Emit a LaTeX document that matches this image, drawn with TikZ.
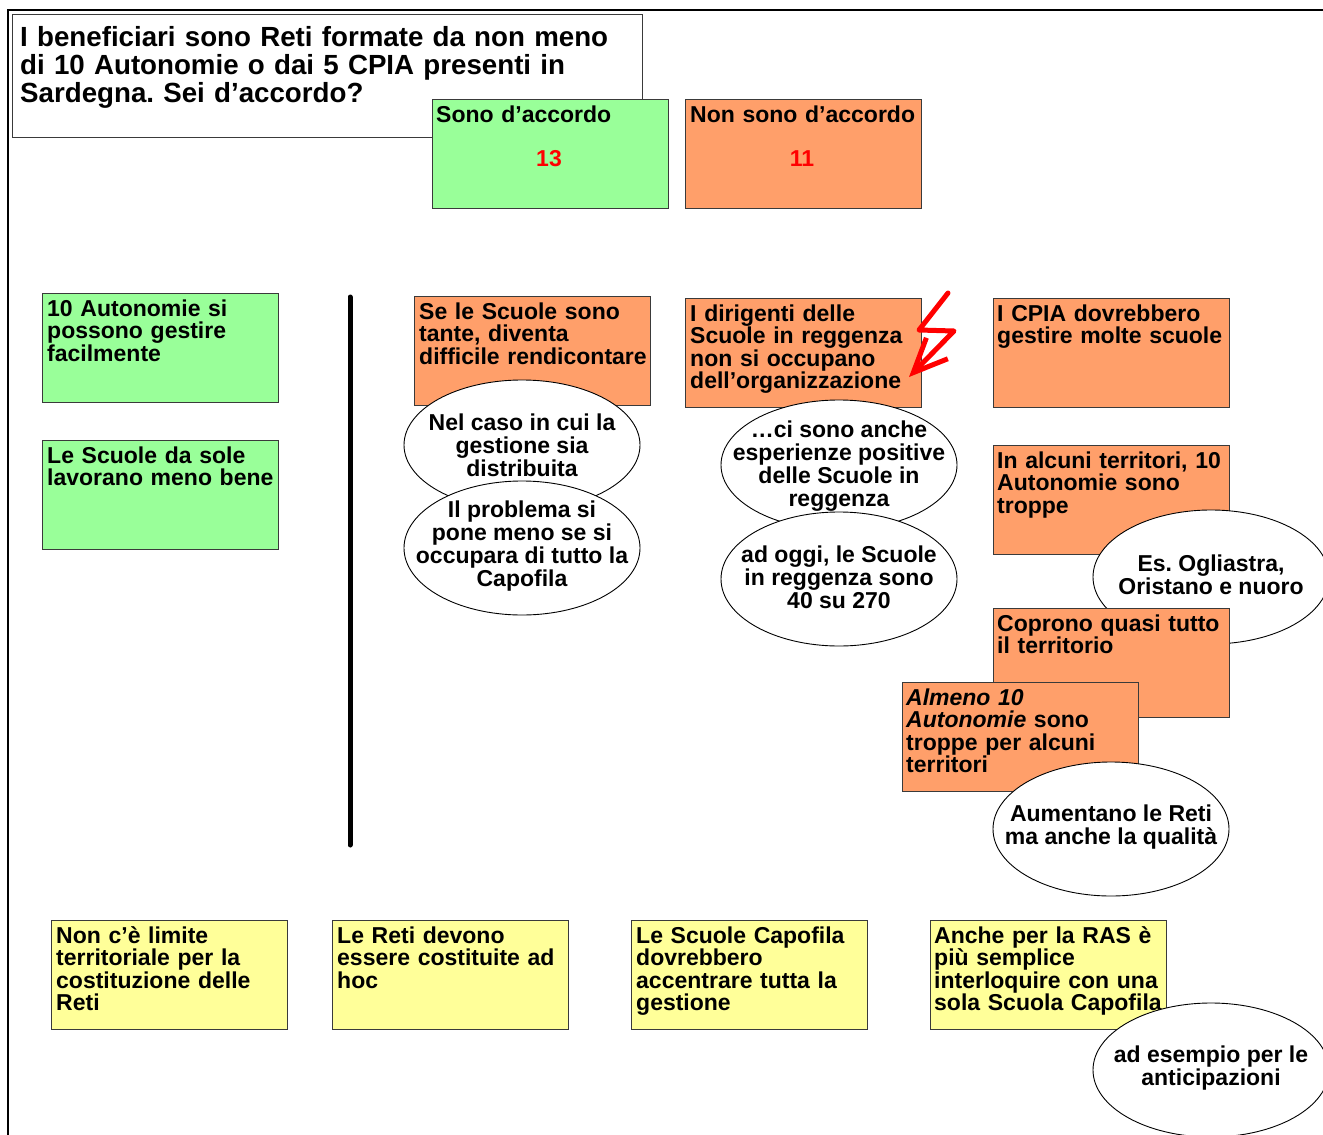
\documentclass[tikz,border=0pt]{standalone}
\usepackage{fontspec}
\setmainfont{Liberation Sans}
\usetikzlibrary{shapes.geometric,arrows.meta}
\definecolor{agree}{HTML}{99FF99}
\definecolor{disagree}{HTML}{FF9F6A}
\definecolor{note}{HTML}{FFFF99}
\definecolor{edge}{HTML}{3A3A3A}
\frenchspacing

\begin{document}
\begin{tikzpicture}[x=1pt,y=-1pt,
  card/.style={draw=edge, line width=0.9pt, minimum width=236pt, minimum height=109pt,
    anchor=north west, inner sep=0pt, outer sep=0pt},
  cardtext/.style={anchor=base west, inner sep=0pt, text width=232pt, align=left,
    font=\bfseries\fontsize{23}{22.5}\selectfont},
  bubble/.style={ellipse, draw=black, line width=0.9pt, fill=white,
    minimum width=236pt, minimum height=134pt, inner sep=0pt},
  bubbletext/.style={align=center, inner sep=0pt,
    font=\bfseries\fontsize{23}{23}\selectfont},
  count/.style={inner sep=0pt, text=red, font=\bfseries\fontsize{23}{23}\selectfont},
]
\useasboundingbox (0,0) rectangle (1323,1135);
\clip (0,0) rectangle (1323,1135);
\fill[white] (0,0) rectangle (1323,1135);

% outer frame (runs off the right and bottom edges)
\draw[line width=2.6pt] (8,10) rectangle (1345,1160);

% question
\node[draw=edge, line width=0.9pt, fill=white, minimum width=630pt, minimum height=123pt,
  anchor=north west, inner sep=0pt] (question) at (12,14) {};
\node[anchor=base west, inner sep=0pt, text width=620pt, align=left,
  font=\bfseries\fontsize{27.7}{28}\selectfont] (qtext) at (20,46)
  {I beneficiari sono Reti formate da non meno\\
   di 10 Autonomie o dai 5 CPIA presenti in\\
   Sardegna. Sei d’accordo?};

% answers
\node[card, fill=agree] (yes) at (432,99) {};
\node[cardtext] (yestext) at (436,122) {Sono d’accordo};
\node[count] (yesnum) at (549,159) {13};
\node[card, fill=disagree] (no) at (685,99) {};
\node[cardtext] (notext) at (690,122) {Non sono d’accordo};
\node[count] (nonum) at (802,159) {11};

% arguments in favour
\node[card, fill=agree] (g1) at (42,293) {};
\node[cardtext] (g1t) at (47,316) {10 Autonomie si\\possono gestire\\facilmente};
\node[card, fill=agree] (g2) at (42,440) {};
\node[cardtext] (g2t) at (47,463) {Le Scuole da sole\\lavorano meno bene};

% divider
\draw[line width=5pt, line cap=round] (350,297) -- (350,845);

% arguments against
\node[card, fill=disagree] (o1) at (414,296) {};
\node[cardtext] (o1t) at (419,319) {Se le Scuole sono\\tante, diventa\\difficile rendicontare};
\node[bubble, minimum height=130pt] (e1) at (522,445) {};
\node[bubbletext] (e1t) at ([yshift=0pt]e1.center) {Nel caso in cui la\\gestione sia\\distribuita};
\node[bubble] (e2) at (522,548) {};
\node[bubbletext] (e2t) at ([yshift=2pt]e2.center) {Il problema si\\pone meno se si\\occupara di tutto la\\Capofila};

\node[card, fill=disagree] (o2) at (685,298) {};
\node[cardtext] (o2t) at (690,321) {I dirigenti delle\\Scuole in reggenza\\non si occupano\\dell’organizzazione};
\node[bubble, minimum height=130pt] (e3) at (839,465) {};
\node[bubbletext] (e3t) at ([yshift=-1pt]e3.center) {…ci sono anche\\esperienze positive\\delle Scuole in\\reggenza};
\node[bubble] (e4) at (839,579) {};
\node[bubbletext] (e4t) at ([yshift=2pt]e4.center) {ad oggi, le Scuole\\in reggenza sono\\40 su 270};

% lightning bolt
\coordinate (b1) at (948,293);
\coordinate (b2) at (919,330);
\coordinate (b3) at (954,331);
\coordinate (b4) at (909,377);
\draw[red, line width=5pt, line join=round, line cap=round,
  -{Straight Barb[length=34pt,width=30pt,line width=5pt]}] (b1) -- (b2) -- (b3) -- (b4);

\node[card, fill=disagree] (o3) at (993,298) {};
\node[cardtext] (o3t) at (997,321) {I CPIA dovrebbero\\gestire molte scuole};
\node[card, fill=disagree] (o4) at (993,445) {};
\node[cardtext] (o4t) at (997,468) {In alcuni territori, 10\\Autonomie sono\\troppe};
\node[bubble] (e5) at (1211,577) {};
\node[bubbletext] (e5t) at ([yshift=2pt]e5.center) {Es. Ogliastra,\\Oristano e nuoro};
\node[card, fill=disagree] (o5) at (993,608) {};
\node[cardtext] (o5t) at (997,631) {Coprono quasi tutto\\il territorio};
\node[card, fill=disagree] (o6) at (902,682) {};
\node[cardtext] (o6t) at (906,705) {\textit{Almeno 10}\\\textit{Autonomie} sono\\troppe per alcuni\\territori};
\node[bubble] (e6) at (1111,829) {};
\node[bubbletext] (e6t) at ([yshift=2pt]e6.center) {Aumentano le Reti\\ma anche la qualità};

% general remarks
\node[card, fill=note] (y1) at (51,920) {};
\node[cardtext] (y1t) at (56,943) {Non c’è limite\\territoriale per la\\costituzione delle\\Reti};
\node[card, fill=note] (y2) at (332,920) {};
\node[cardtext] (y2t) at (337,943) {Le Reti devono\\essere costituite ad\\hoc};
\node[card, fill=note] (y3) at (631,920) {};
\node[cardtext] (y3t) at (636,943) {Le Scuole Capofila\\dovrebbero\\accentrare tutta la\\gestione};
\node[card, fill=note] (y4) at (930,920) {};
\node[cardtext] (y4t) at (934,943) {Anche per la RAS è\\più semplice\\interloquire con una\\sola Scuola Capofila};
\node[bubble] (e7) at (1211,1070) {};
\node[bubbletext] (e7t) at ([yshift=2pt]e7.center) {ad esempio per le\\anticipazioni};
\end{tikzpicture}
\end{document}
